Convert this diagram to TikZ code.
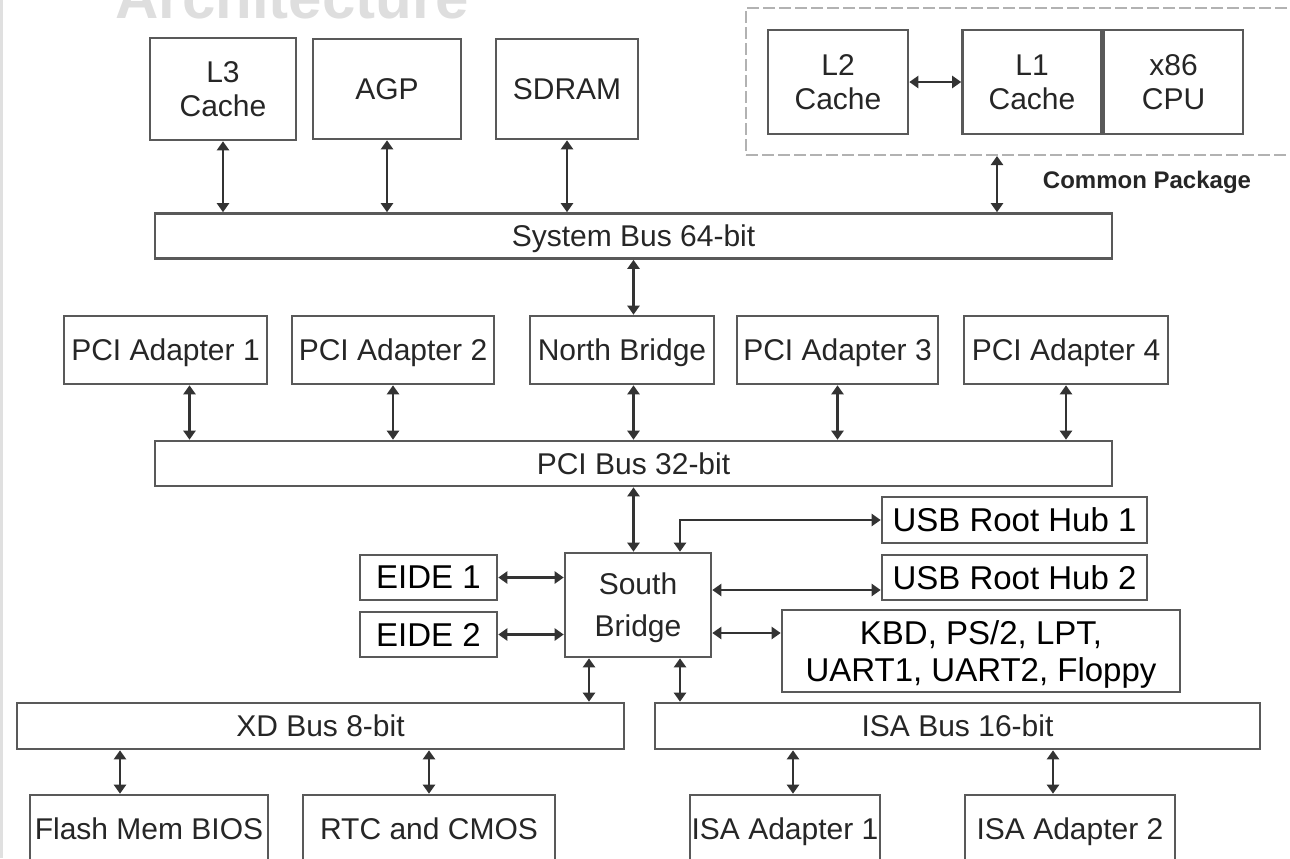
\documentclass[tikz,border=0pt]{standalone}
\usepackage{fontspec}
\setmainfont{Liberation Sans}
\usetikzlibrary{positioning,arrows.meta}

\begin{document}
\begin{tikzpicture}[x=0.5pt, y=-0.5pt, font=\fontsize{15}{17}\selectfont,
  caja/.style={draw=black!65, line width=1.3pt, align=center, text=black!85, inner sep=0pt, text depth=0pt},
  bus/.style={caja, minimum width=478.5pt, minimum height=22.5pt},
  puerto/.style={caja, text=black, font=\fontsize{16.5}{18.5}\selectfont},
  flecha/.style={{Triangle[length=4.5pt,width=6pt]}-{Triangle[length=4.5pt,width=6pt]}, line width=1.3pt, black!80}]
\useasboundingbox (0,0) rectangle (1290,858);
\clip (0,0) rectangle (1290,858);
\draw[black!12, line width=1.5pt] (1,0) -- (1,858);
\node[anchor=base west, inner sep=0pt, text=black!13, font=\bfseries\fontsize{30}{30}\selectfont] (titulo) at (115,18) {Architecture};
% memoria y procesador
\node[caja, minimum width=73pt, minimum height=51pt] (l3) at (223,89) {L3\\Cache};
\node[caja, minimum width=74pt, minimum height=50pt] (agp) at (387,89) {AGP};
\node[caja, minimum width=71pt, minimum height=50pt] (sdram) at (567,89) {SDRAM};
\node[draw=black!30, dash pattern=on 6pt off 2pt, line width=1pt, minimum width=274.5pt, minimum height=73.5pt] (paquete) at (1020.5,81.5) {};
\node[caja, minimum width=70pt, minimum height=52pt] (l2) at (838,82) {L2\\Cache};
\node[caja, minimum width=69.5pt, minimum height=52pt] (l1) at (1032,82) {L1\\Cache};
\node[caja, minimum width=69.5pt, minimum height=52pt, right=0pt of l1] (cpu) {x86\\CPU};
\node[text=black!85, font=\bfseries\fontsize{12}{14}\selectfont] (etiqueta) at (1147,182) {Common Package};
\draw[flecha] (l2) -- (l1);
% bus del sistema
\node[bus] (sysbus) at (633.5,236) {System Bus 64-bit};
\coordinate (cp) at ([xshift=-11.75pt]paquete.south);
\draw[flecha] (l3) -- (l3 |- sysbus.north); \draw[flecha] (agp) -- (agp |- sysbus.north); \draw[flecha] (sdram) -- (sdram |- sysbus.north); \draw[flecha] (cp) -- (cp |- sysbus.north);
% adaptadores PCI
\node[caja, minimum width=101.5pt, minimum height=34pt] (pci1) at (165.5,350) {PCI Adapter 1};
\node[caja, minimum width=101pt, minimum height=34pt] (pci2) at (393,350) {PCI Adapter 2};
\node[caja, minimum width=92pt, minimum height=34pt] (northb) at (622,350) {North Bridge};
\node[caja, minimum width=100.5pt, minimum height=34pt] (pci3) at (837.5,350) {PCI Adapter 3};
\node[caja, minimum width=102pt, minimum height=34pt] (pci4) at (1066,350) {PCI Adapter 4};
\draw[flecha] (sysbus) -- (sysbus |- northb.north);
\node[bus] (pcibus) at (633.5,463.5) {PCI Bus 32-bit};
\coordinate (p1) at ([xshift=12pt]pci1.south);
\draw[flecha] (p1) -- (p1 |- pcibus.north); \draw[flecha] (pci2) -- (pci2 |- pcibus.north); \draw[flecha] (pcibus) -- (pcibus |- northb.south); \draw[flecha] (pci3) -- (pci3 |- pcibus.north); \draw[flecha] (pci4) -- (pci4 |- pcibus.north);
% puente sur
\node[caja, minimum width=73pt, minimum height=52pt] (southb) at (638,605) {South\\[4pt]Bridge};
\node[puerto, minimum width=132.5pt, minimum height=23pt] (usb1) at (1014.5,520) {USB Root Hub 1};
\node[puerto, minimum width=132.5pt, minimum height=22.5pt] (usb2) at (1014.5,577.5) {USB Root Hub 2};
\node[puerto, minimum width=199pt, minimum height=41pt] (kbd) at (981,651) {KBD, PS/2, LPT,\\UART1, UART2, Floppy};
\node[puerto, minimum width=68.5pt, minimum height=22.5pt] (eide1) at (428.5,577.5) {EIDE 1};
\node[puerto, minimum width=68.5pt, minimum height=22.5pt] (eide2) at (428.5,634.5) {EIDE 2};
\draw[flecha] (pcibus) -- (pcibus |- southb.north);
\coordinate (sbn) at ([xshift=21pt]southb.north);
\coordinate (u2) at ([yshift=-6.25pt]usb2.west);
\coordinate (kb) at ([yshift=9pt]kbd.west);
\draw[flecha] (usb1) -| (sbn);
\draw[flecha] (u2 -| southb.east) -- (u2); \draw[flecha] (kb -| southb.east) -- (kb);
\draw[flecha] (eide1) -- (eide1 -| southb.west); \draw[flecha] (eide2) -- (eide2 -| southb.west);
% buses XD e ISA
\node[caja, minimum width=303.5pt, minimum height=23pt] (xdbus) at (320.5,726) {XD Bus 8-bit};
\node[caja, minimum width=302.5pt, minimum height=23pt] (isabus) at (957.5,726) {ISA Bus 16-bit};
\coordinate (sb1) at ([xshift=-24.5pt]southb.south);
\coordinate (sb2) at ([xshift=21pt]southb.south);
\draw[flecha] (sb1) -- (sb1 |- xdbus.north); \draw[flecha] (sb2) -- (sb2 |- isabus.north);
\node[caja, minimum width=119pt, minimum height=33.5pt] (flash) at (149,828.5) {Flash Mem BIOS};
\node[caja, minimum width=126pt, minimum height=33.5pt] (rtc) at (429,828.5) {RTC and CMOS};
\node[caja, minimum width=95pt, minimum height=33.5pt] (isa1) at (785,828.5) {ISA Adapter 1};
\node[caja, minimum width=105pt, minimum height=33.5pt] (isa2) at (1070,828.5) {ISA Adapter 2};
\coordinate (f1) at ([xshift=-14.5pt]flash.north);
\coordinate (i1) at ([xshift=4pt]isa1.north);
\coordinate (i2) at ([xshift=-8.5pt]isa2.north);
\draw[flecha] (f1 |- xdbus.south) -- (f1); \draw[flecha] (rtc |- xdbus.south) -- (rtc);
\draw[flecha] (i1 |- isabus.south) -- (i1); \draw[flecha] (i2 |- isabus.south) -- (i2);
\end{tikzpicture}
\end{document}
